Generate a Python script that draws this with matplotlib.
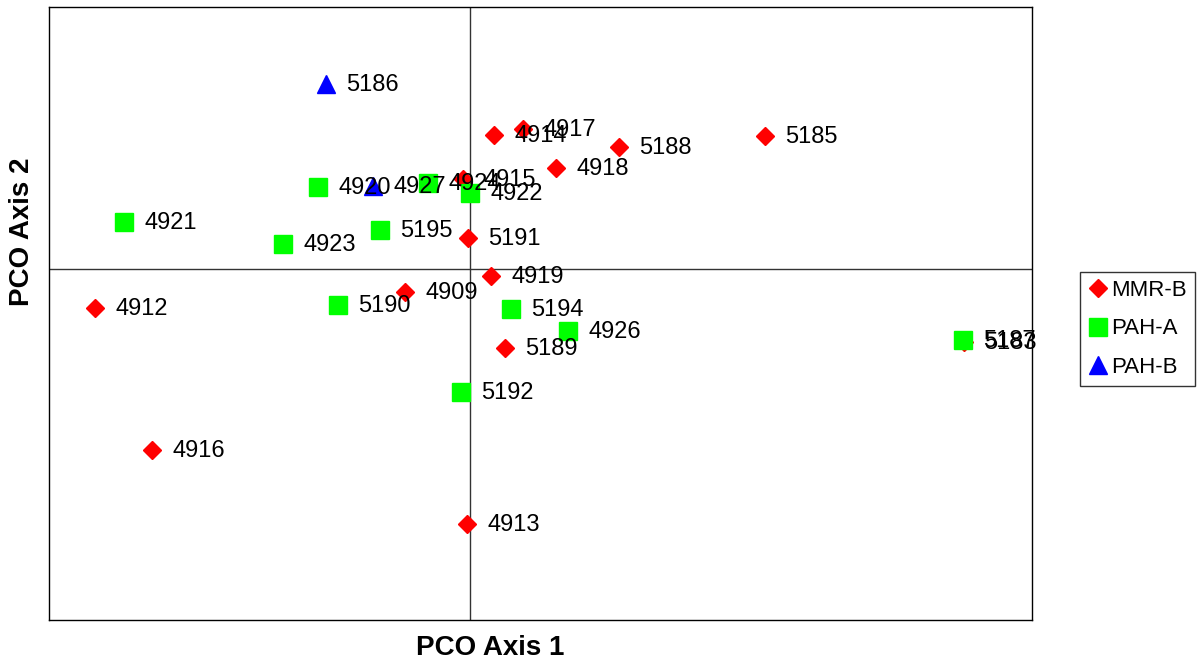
import matplotlib.pyplot as plt

plt.rcParams['font.family'] = ['Liberation Sans', 'DejaVu Sans']

# PCO scores (arbitrary units, axes cross at 0,0)
mmr_b_ids = ['4912', '4916', '4913', '4909', '4919', '5189', '5191', '4914',
             '4917', '4918', '5188', '5185', '4915', '5183']
mmr_b_x = [-3.75, -3.18, -0.03, -0.65, 0.21, 0.35, -0.02, 0.24,
           0.53, 0.86, 1.49, 2.95, -0.07, 4.94]
mmr_b_y = [-0.39, -1.81, -2.55, -0.23, -0.07, -0.79, 0.31, 1.34,
           1.40, 1.01, 1.22, 1.33, 0.90, -0.73]

pah_a_ids = ['4921', '4923', '4920', '5195', '4924', '4922', '5190', '5194',
             '4926', '5192', '5187']
pah_a_x = [-3.46, -1.87, -1.52, -0.90, -0.42, 0.00, -1.32, 0.41,
           0.98, -0.09, 4.93]
pah_a_y = [0.47, 0.25, 0.82, 0.39, 0.86, 0.76, -0.36, -0.40,
           -0.62, -1.23, -0.71]

pah_b_ids = ['5186', '4927']
pah_b_x = [-1.44, -0.97]
pah_b_y = [1.85, 0.83]

fig = plt.figure(figsize=(12.04, 6.62), dpi=100)
ax = fig.add_axes([49/1204, 42/662, (1032-49)/1204, (620-7)/662])

ax.plot(mmr_b_x, mmr_b_y, 'D', color='red', markersize=9.5, linestyle='none',
        label='MMR-B', zorder=3)
ax.plot(pah_a_x, pah_a_y, 's', color='#00ff00', markersize=13, linestyle='none',
        label='PAH-A', zorder=4)
ax.plot(pah_b_x, pah_b_y, '^', color='blue', markersize=13, linestyle='none',
        label='PAH-B', zorder=5)

for ids, xs, ys in [(mmr_b_ids, mmr_b_x, mmr_b_y),
                    (pah_a_ids, pah_a_x, pah_a_y),
                    (pah_b_ids, pah_b_x, pah_b_y)]:
    for s, x, y in zip(ids, xs, ys):
        ax.annotate(s, (x, y), xytext=(14.5, -1), textcoords='offset points',
                    va='center', ha='left', fontsize=17, zorder=6)

ax.axhline(0, color='#333333', linewidth=1, zorder=1)
ax.axvline(0, color='#333333', linewidth=1, zorder=1)

ax.set_xlim(-4.21, 5.62)
ax.set_ylim(-3.51, 2.62)
ax.set_xticks([])
ax.set_yticks([])
for sp in ax.spines.values():
    sp.set_linewidth(1)

fig.text(490/1204, 1 - 648/662, 'PCO Axis 1', ha='center', va='center',
         fontsize=20, fontweight='bold')
fig.text(22/1204, 1 - 232/662, 'PCO Axis 2', ha='center', va='center',
         fontsize=20, fontweight='bold', rotation=90)

leg = fig.legend(loc='center left', bbox_to_anchor=(1080/1204, 1 - 329/662),
                 fontsize=16, frameon=True, fancybox=False, handletextpad=0.15,
                 handlelength=0.9, borderpad=0.35, labelspacing=0.8,
                 borderaxespad=0)
leg.get_frame().set_edgecolor('black')
leg.get_frame().set_linewidth(1)

fig.savefig('out.png', dpi=100)
